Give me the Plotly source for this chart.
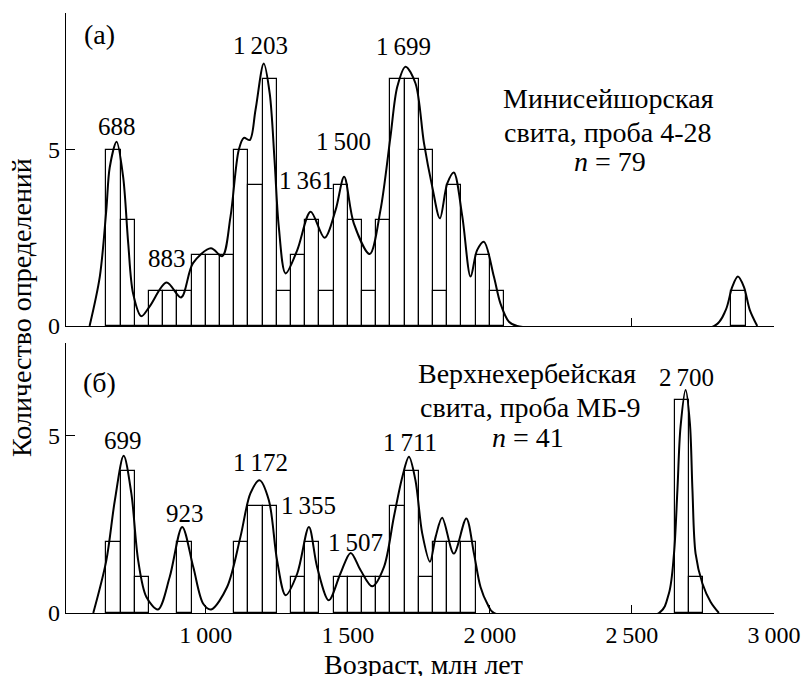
import plotly.graph_objects as go

# ---------------- data ----------------
bin_width = 50
# panel (a): histogram bin starts and counts
bins_a = [650, 700, 750, 800, 850, 900, 950, 1000, 1050, 1100, 1150, 1200, 1250, 1300, 1350,
          1400, 1450, 1500, 1550, 1600, 1650, 1700, 1750, 1800, 1850, 1900, 1950, 2000, 2850]
counts_a = [5, 3, 0, 1, 1, 1, 2, 2, 2, 5, 4, 7, 1, 2, 3,
            1, 4, 3, 1, 3, 7, 7, 5, 1, 4, 0, 2, 1, 1]
# panel (a): probability-density curve
kde_a_age = [591, 627, 650, 662, 686, 709, 727, 744, 773, 802, 862, 913, 955, 1018, 1058, 1087,
             1116, 1134, 1155, 1175, 1204, 1225, 1242, 1257, 1281, 1322, 1369, 1418, 1457, 1487,
             1521, 1577, 1615, 1650, 1674, 1703, 1738, 1768, 1797, 1824, 1850, 1873, 1903, 1932,
             1955, 1979, 2014, 2037, 2067, 2096, 2790, 2830, 2853, 2873, 2894, 2915, 2941]
kde_a_val = [0, 1.4, 3.3, 4.5, 5.22, 4.23, 2.34, 0.93, 0.28, 0.55, 1.23, 0.81, 1.78, 2.2, 1.98, 3.1,
             4.99, 5.33, 5.27, 6.12, 7.44, 6.59, 4.7, 2.81, 1.49, 2.15, 3.24, 2.5, 3.29, 4.23,
             2.91, 2.04, 3.29, 5.36, 6.78, 7.35, 6.88, 5.18, 3.95, 3.05, 4.04, 4.35, 3.1, 1.4,
             2.15, 2.39, 1.4, 0.64, 0.12, 0, 0, 0.45, 1.11, 1.4, 1.11, 0.45, 0]

# panel (б)
bins_b = [650, 700, 750, 900, 1100, 1150, 1200, 1300, 1350, 1450, 1500, 1550, 1600, 1650, 1700,
          1750, 1800, 1850, 1900, 2650, 2700]
counts_b = [2, 4, 1, 2, 2, 3, 3, 1, 2, 1, 1, 1, 1, 3, 4,
            1, 2, 2, 2, 6, 1]
kde_b_age = [604, 650, 680, 711, 738, 762, 791, 832, 873, 917, 956, 991, 1019, 1075, 1122, 1157,
             1189, 1222, 1251, 1281, 1322, 1363, 1392, 1433, 1474, 1510, 1545, 1586, 1627, 1662,
             1692, 1715, 1738, 1762, 1789, 1809, 1832, 1873, 1917, 1944, 1967, 1991, 2014, 2595,
             2630, 2648, 2660, 2671, 2689, 2704, 2713, 2724, 2748, 2777, 2806]
kde_b_val = [0, 1.48, 3.17, 4.42, 3.36, 1.48, 0.45, 0.1, 1.01, 2.42, 1.29, 0.26, 0.1, 0.73, 2.14, 3.36,
             3.73, 3.17, 1.48, 0.5, 1.11, 2.42, 1.29, 0.36, 1.11, 1.69, 1.2, 0.75, 1.29, 2.7,
             3.83, 4.39, 3.73, 2.23, 1.44, 2.14, 2.68, 1.67, 2.66, 1.67, 0.73, 0.26, 0, 0,
             0.55, 1.67, 3.45, 5.23, 6.27, 5.33, 3.45, 1.67, 0.83, 0.31, 0]

x_tickvals = [1000, 1500, 2000, 2500, 3000]
x_ticktext = ["1\u2009000", "1\u2009500", "2\u2009000", "2\u2009500", "3\u2009000"]
y_tickvals = [0, 5]
y_ticktext = ["0", "5"]

peaks_a = ["688", "883", "1\u2009203", "1\u2009361", "1\u2009500", "1\u2009699"]
peaks_b = ["699", "923", "1\u2009172", "1\u2009355", "1\u2009507", "1\u2009711", "2\u2009700"]

# ---------------- layout helpers ----------------
W, H = 801, 676
ML, MR, MT, MB = 66, 27, 13, 63
PW, PH = W - ML - MR, H - MT - MB


def px(x):
    return (x - ML) / PW


def py(y):
    return (H - MB - y) / PH


FONT = "Liberation Serif"
FS_TICK = 24
FS_NUM = 25
FS_TXT = 28

fig = go.Figure()

centers_a = [b + bin_width / 2 for b in bins_a]
centers_b = [b + bin_width / 2 for b in bins_b]

bar_style = dict(marker=dict(color="white", line=dict(color="black", width=1.2)),
                 width=bin_width, showlegend=False, hoverinfo="skip")

fig.add_trace(go.Bar(x=centers_a, y=counts_a, xaxis="x2", yaxis="y2", **bar_style))
fig.add_trace(go.Scatter(x=kde_a_age, y=kde_a_val, xaxis="x2", yaxis="y2", mode="lines",
                         line=dict(color="black", width=2, shape="spline", smoothing=0.9),
                         showlegend=False, hoverinfo="skip"))
fig.add_trace(go.Bar(x=centers_b, y=counts_b, xaxis="x", yaxis="y", **bar_style))
fig.add_trace(go.Scatter(x=kde_b_age, y=kde_b_val, xaxis="x", yaxis="y", mode="lines",
                         line=dict(color="black", width=2, shape="spline", smoothing=0.9),
                         showlegend=False, hoverinfo="skip"))

top_dom = [py(326), 1.0]
bot_dom = [0.0, py(343)]

axis_common = dict(showline=True, linecolor="black", linewidth=1.3, showgrid=False,
                   zeroline=False, ticks="inside", tickcolor="black", tickwidth=1.3,
                   automargin=False,
                   tickfont=dict(family=FONT, size=FS_TICK, color="black"))

fig.update_layout(
    width=W, height=H,
    margin=dict(l=ML, r=MR, t=MT, b=MB, autoexpand=False),
    paper_bgcolor="white", plot_bgcolor="white",
    barmode="overlay", bargap=0,
    font=dict(family=FONT, size=FS_NUM, color="black"),
    xaxis=dict(domain=[0, 1], anchor="y", range=[508, 3000], tickvals=x_tickvals,
               ticktext=x_ticktext, ticklen=8, ticklabelstandoff=0, **axis_common),
    yaxis=dict(domain=bot_dom, anchor="x", range=[0, 7.59], tickvals=y_tickvals,
               ticktext=y_ticktext, ticklen=9, **axis_common),
    xaxis2=dict(domain=[0, 1], anchor="y2", range=[508, 3000], tickvals=x_tickvals,
                showticklabels=False, ticklen=8, **axis_common),
    yaxis2=dict(domain=top_dom, anchor="x2", range=[0, 8.87], tickvals=y_tickvals,
                ticktext=y_ticktext, ticklen=9, **axis_common),
)

ann = []


def add_text(text, x, y, size=FS_NUM, xanchor="center", angle=0):
    ann.append(dict(text=text, x=px(x), y=py(y), xref="paper", yref="paper",
                    showarrow=False, xanchor=xanchor, yanchor="middle", textangle=angle,
                    font=dict(family=FONT, size=size, color="black")))


# panel (a) text
add_text("(a)", 99, 35, FS_TXT)
pos_a = [(116.7, 127), (166.7, 258), (260, 45), (306.7, 180), (343.3, 142), (403.3, 47)]
for t, (x, y) in zip(peaks_a, pos_a):
    add_text(t, x, y)
add_text("Минисейшорская", 608, 98, FS_TXT)
add_text("свита, проба 4-28", 608, 132, FS_TXT)
add_text("<i>n</i> = 79", 610, 162, FS_TXT)

# panel (б) text
add_text("(б)", 99, 382, FS_TXT)
pos_b = [(123.3, 440), (185, 513), (260, 462), (308.3, 505), (355, 542), (410, 442), (686.7, 377)]
for t, (x, y) in zip(peaks_b, pos_b):
    add_text(t, x, y)
add_text("Верхнехербейская", 527, 373, FS_TXT)
add_text("свита, проба МБ-9", 530, 407, FS_TXT)
add_text("<i>n</i> = 41", 528, 437, FS_TXT)

# axis titles
add_text("Возраст, млн лет", 424, 664, FS_TXT)
add_text("Количество определений", 21, 308, FS_TXT, angle=-90)

fig.update_layout(annotations=ann)

fig.write_html("out.html", config={"displayModeBar": False},
               post_script="document.body.style.margin='0';document.body.style.overflow='hidden';")
